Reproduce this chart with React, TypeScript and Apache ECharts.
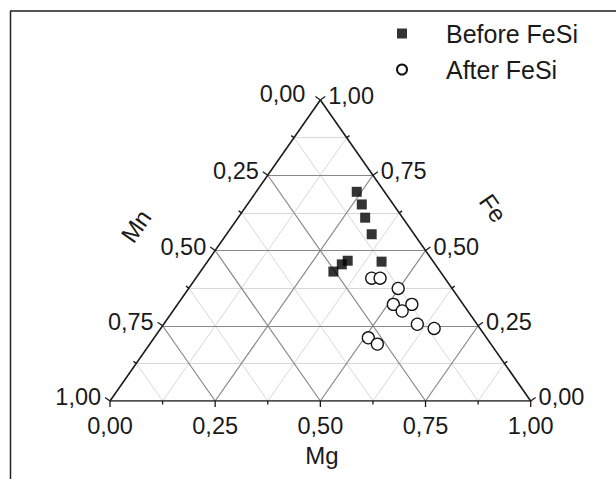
import React, { useEffect, useRef } from "react";
import * as echarts from "echarts";

// Ternary composition (Mg, Fe); Mn = 1 - Mg - Fe
const beforeMg = [0.239, 0.272, 0.302, 0.345, 0.414, 0.332, 0.324, 0.316];
const beforeFe = [0.695, 0.653, 0.609, 0.554, 0.463, 0.466, 0.454, 0.43];
const afterMg = [0.418, 0.438, 0.498, 0.513, 0.557, 0.545, 0.603, 0.65, 0.509, 0.541];
const afterFe = [0.408, 0.408, 0.374, 0.321, 0.321, 0.299, 0.255, 0.241, 0.21, 0.189];

const majorTicks = [0, 0.25, 0.5, 0.75, 1];
const minorTicks = [0.125, 0.375, 0.625, 0.875];
const tickLabels = ["0,00", "0,25", "0,50", "0,75", "1,00"];
const axisTitles = ["Mg", "Fe", "Mn"];
const seriesNames = ["Before FeSi", "After FeSi"];

const FONT = "'Liberation Sans', Arial, sans-serif";
const INK = "#1a1a1a";

// ternary (Mg, Fe) -> cartesian
const toXY = (mg: number, fe: number) => [mg + fe / 2, fe];
// axis positions: 0 = bottom (Mg), 1 = right (Fe), 2 = left (Mn)
const axisPoint = (axis: number, t: number) => {
  if (axis === 0) return toXY(t, 0);
  if (axis === 1) return toXY(1 - t, t);
  return toXY(0, 1 - t);
};

function gridLines(values: number[]) {
  const out: any[] = [];
  values.forEach((t) => {
    out.push({ coords: [toXY(0, t), toXY(1 - t, t)] }); // constant Fe
    out.push({ coords: [toXY(t, 0), toXY(t, 1 - t)] }); // constant Mg
    out.push({ coords: [toXY(0, 1 - t), toXY(1 - t, 0)] }); // constant Mn
  });
  return out;
}

function tickData() {
  const d: number[][] = [];
  for (let axis = 0; axis < 3; axis++) {
    majorTicks.forEach((t, i) => {
      const p = axisPoint(axis, t);
      d.push([p[0], p[1], axis, 1, i]);
    });
    minorTicks.forEach((t) => {
      const p = axisPoint(axis, t);
      d.push([p[0], p[1], axis, 0, -1]);
    });
  }
  return d;
}

export default function App() {
  const ref = useRef<HTMLDivElement>(null);
  useEffect(() => {
    if (!ref.current) return;
    const chart = echarts.init(ref.current, null, { renderer: "svg" });
    const option: any = {
      animation: false,
      backgroundColor: "#ffffff",
      grid: { left: 110, right: 85.3, top: 100, bottom: 78 },
      xAxis: { type: "value", min: 0, max: 1, show: false },
      yAxis: { type: "value", min: 0, max: 1, show: false },
      legend: {
        orient: "vertical",
        left: 396,
        top: 21,
        padding: 0,
        itemWidth: 10,
        itemHeight: 10,
        itemGap: 11,
        textStyle: {
          fontFamily: FONT,
          fontSize: 25,
          color: INK,
          lineHeight: 24,
          padding: [0, 0, 0, 34],
        },
        data: [
          { name: seriesNames[0], icon: "rect" },
          { name: seriesNames[1], icon: "circle" },
        ],
      },
      graphic: [
        { type: "line", shape: { x1: 10, y1: 11, x2: 616, y2: 11 }, style: { stroke: "#555", lineWidth: 2 } },
        { type: "line", shape: { x1: 10.5, y1: 11, x2: 10.5, y2: 479 }, style: { stroke: "#222", lineWidth: 1.5 } },
        {
          type: "text",
          x: 322,
          y: 455,
          style: { text: axisTitles[0], fontFamily: FONT, fontSize: 24, fill: INK, align: "center", verticalAlign: "middle" },
        },
        {
          type: "text",
          x: 493,
          y: 208,
          rotation: (-55 * Math.PI) / 180,
          style: { text: axisTitles[1], fontFamily: FONT, fontSize: 24, fill: INK, align: "center", verticalAlign: "middle" },
        },
        {
          type: "text",
          x: 136,
          y: 226,
          rotation: (55 * Math.PI) / 180,
          style: { text: axisTitles[2], fontFamily: FONT, fontSize: 24, fill: INK, align: "center", verticalAlign: "middle" },
        },
      ],
      series: [
        {
          type: "lines",
          coordinateSystem: "cartesian2d",
          silent: true,
          z: 1,
          lineStyle: { color: "#d8d8d8", width: 1, opacity: 1 },
          data: gridLines(minorTicks),
        },
        {
          type: "lines",
          coordinateSystem: "cartesian2d",
          silent: true,
          z: 2,
          lineStyle: { color: "#888888", width: 1.2, opacity: 1 },
          data: gridLines([0.25, 0.5, 0.75]),
        },
        {
          type: "lines",
          coordinateSystem: "cartesian2d",
          silent: true,
          z: 3,
          lineStyle: { color: "#1a1a1a", width: 1.6, opacity: 1 },
          data: [
            { coords: [axisPoint(0, 0), axisPoint(0, 1)] },
            { coords: [axisPoint(1, 0), axisPoint(1, 1)] },
            { coords: [axisPoint(2, 0), axisPoint(2, 1)] },
          ],
        },
        {
          type: "custom",
          coordinateSystem: "cartesian2d",
          silent: true,
          clip: false,
          z: 4,
          data: tickData(),
          renderItem: (params: any, api: any) => {
            const axis = api.value(2);
            const major = api.value(3);
            const li = api.value(4);
            const p = api.coord([api.value(0), api.value(1)]);
            const bl = api.coord([0, 0]);
            const br = api.coord([1, 0]);
            const ap = api.coord([0.5, 1]);
            let n: number[];
            if (axis === 0) n = [0, 1];
            else if (axis === 1) n = [-(ap[1] - br[1]), ap[0] - br[0]];
            else n = [ap[1] - bl[1], -(ap[0] - bl[0])];
            const L = Math.hypot(n[0], n[1]);
            n = [n[0] / L, n[1] / L];
            const len = major ? 6 : 3.5;
            const e = [p[0] + n[0] * len, p[1] + n[1] * len];
            const children: any[] = [
              {
                type: "line",
                shape: { x1: p[0], y1: p[1], x2: e[0], y2: e[1] },
                style: { stroke: INK, lineWidth: 1.3 },
              },
            ];
            if (major) {
              let tx = e[0];
              let ty = e[1];
              let align = "center";
              if (axis === 0) {
                ty = e[1] + 19;
              } else if (axis === 1) {
                tx = e[0] + 3;
                ty = e[1] - 0.5;
                align = "left";
              } else {
                tx = e[0] - 4 - (li === 0 ? 6 : 0);
                ty = e[1] - 0.5 - (li === 0 ? 2 : 0);
                align = "right";
              }
              children.push({
                type: "text",
                x: tx,
                y: ty,
                style: {
                  text: tickLabels[li],
                  fontFamily: FONT,
                  fontSize: 23.5,
                  fill: INK,
                  align,
                  verticalAlign: "middle",
                },
              });
            }
            return { type: "group", children };
          },
        },
        {
          name: seriesNames[0],
          type: "scatter",
          z: 5,
          symbol: "rect",
          symbolSize: 10,
          itemStyle: { color: "#000000" },
          data: beforeMg.map((m, i) => toXY(m, beforeFe[i])),
        },
        {
          name: seriesNames[1],
          type: "scatter",
          z: 5,
          symbol: "circle",
          symbolSize: 12,
          itemStyle: { color: "#ffffff", borderColor: "#111111", borderWidth: 1.3, opacity: 1 },
          data: afterMg.map((m, i) => toXY(m, afterFe[i])),
        },
      ],
    };
    chart.setOption(option);
    return () => chart.dispose();
  }, []);
  return (
    <div
      ref={ref}
      style={{ position: "absolute", left: 0, top: 0, width: 616, height: 479 }}
    />
  );
}
